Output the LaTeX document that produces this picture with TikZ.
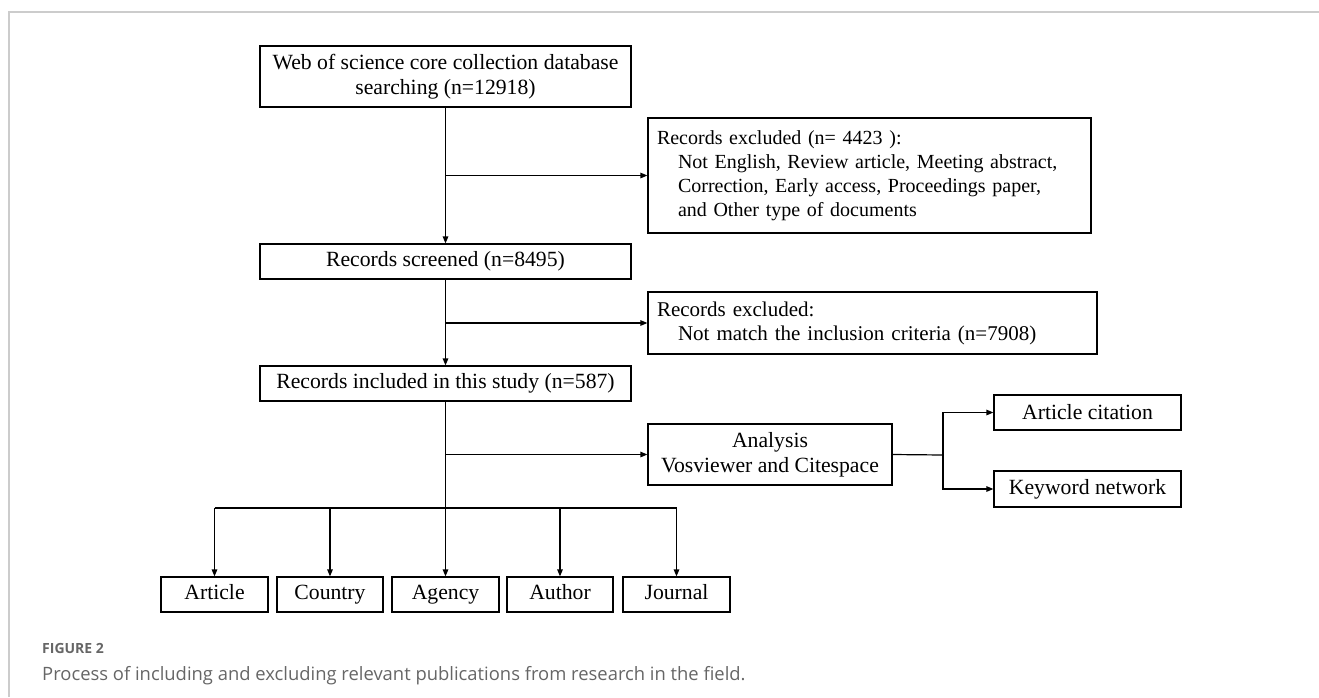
\documentclass[tikz,border=0pt]{standalone}
\usepackage{fontspec}
\setmainfont{Liberation Serif}
\newfontfamily\capfont{Open Sans}
\usetikzlibrary{arrows.meta}
\definecolor{framegray}{HTML}{CCCCCC}
\definecolor{capgray}{HTML}{666666}
\tikzset{
  box/.style = {draw, line width=1.2pt, inner sep=0pt, align=center,
    font=\fontsize{21.7}{25}\selectfont},
  listbox/.style = {box, align=left, inner xsep=9pt},
  flow/.style = {line width=1.2pt, -{Triangle[length=7pt,width=5.5pt]}},
  link/.style = {line width=1.2pt}
}
\begin{document}
\begin{tikzpicture}[x=1pt, y=-1pt]
\useasboundingbox (0,0) rectangle (1319,697);
% frame
\draw[framegray, line width=2pt] (9,697) -- (9,12) -- (1319,12);

% main column
\node[box, minimum width=371pt, minimum height=61pt] (search) at (445.5,76.5)
  {Web of science core collection database\\searching (n=12918)};
\node[box, minimum width=371pt, minimum height=35pt] (screen) at (445.5,261.5)
  {Records screened (n=8495)};
\node[box, minimum width=371pt, minimum height=35pt] (incl) at (445.5,383.5)
  {Records included in this study (n=587)};

% excluded records
\node[listbox, text width=425pt, minimum height=115pt,
      font=\fontsize{20}{24}\selectfont] (excA) at (869.5,175.5)
  {Records excluded (n= 4423 ):\\
   \hspace*{21pt}Not English, Review article, Meeting abstract,\\
   \hspace*{21pt}Correction, Early access, Proceedings paper,\\
   \hspace*{21pt}and Other type of documents};
\node[listbox, text width=431pt, minimum height=62pt,
      font=\fontsize{21}{24}\selectfont] (excB) at (872.5,323)
  {Records excluded:\\
   \hspace*{21pt}Not match the inclusion criteria (n=7908)};

% analysis
\node[box, minimum width=244pt, minimum height=61pt] (anal) at (770,454.5)
  {Analysis\\Vosviewer and Citespace};
\node[box, minimum width=187pt, minimum height=35pt] (cite) at (1087.5,412.5)
  {Article citation};
\node[box, minimum width=187pt, minimum height=36pt] (keyw) at (1087.5,489)
  {Keyword network};

% bottom row
\foreach \name/\x/\w in {Article/214.5/107, Country/330/106, Agency/445.5/107,
                         Author/560/106, Journal/676.5/107}
{
  \node[box, minimum width=\w pt, minimum height=35pt] (\name) at (\x,594.5) {\strut\name};
}

\coordinate (split) at (445.5,508);
\coordinate (fork) at (943,455);

\draw[flow] (search) -- (screen);
\draw[flow] (search.south |- excA.west) -- (excA.west);
\draw[flow] (screen) -- (incl);
\draw[flow] (screen.south |- excB.west) -- (excB.west);
\draw[link] (incl) -- (split);
\draw[flow] (incl.south |- anal.west) -- (anal.west);
\draw[link] (Article.north |- split) -- (Journal.north |- split);
\foreach \name in {Article, Country, Agency, Author, Journal}
{
  \draw[flow] (\name.north |- split) -- (\name.north);
}
\draw[link] (anal.east) -- (fork);
\draw[flow] (fork) |- (cite.west);
\draw[flow] (fork) |- (keyw.west);

% caption
\node[anchor=west, inner sep=0pt, text=capgray, font=\capfont\bfseries\fontsize{14}{16}\selectfont]
  (figno) at (42,648) {FIGURE 2};
\node[anchor=west, inner sep=0pt, text=capgray, font=\capfont\fontsize{18.4}{21}\selectfont]
  (figcap) at (42,676) {Process of including and excluding relevant publications from research in the field.};
\end{tikzpicture}
\end{document}
